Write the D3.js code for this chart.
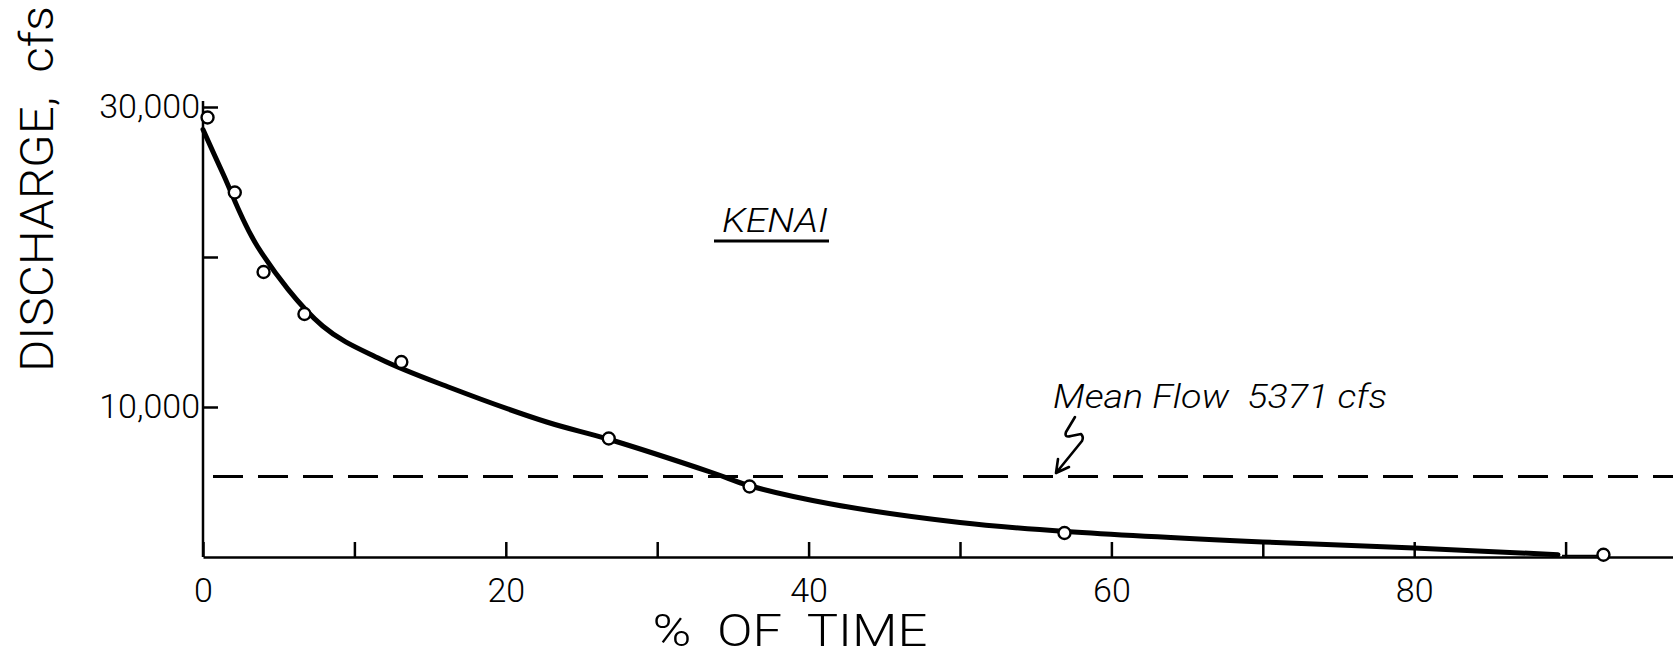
<!DOCTYPE html>
<html>
<head>
<script src="https://cdn.jsdelivr.net/npm/d3@7"></script>
<style>
body { margin: 0; background: #fff; }
svg { display: block; background: #fff; }
text { font-family: Roboto, "Liberation Sans", sans-serif; font-weight: 300; fill: #000; }
.axis path, .axis line { stroke: #000; stroke-width: 2.5px; }
.axis text { font-size: 34px; font-family: Roboto, "Liberation Sans", sans-serif; font-weight: 300; }
</style>
</head>
<body>
<svg width="1673" height="658"></svg>
<script>

// observed points (% of time, discharge cfs)
var pointPct = [0.3, 2.1, 4.0, 6.7, 13.1, 26.8, 36.1, 56.9, 92.5];
var pointQ = [29300, 24300, 19000, 16200, 13000, 7900, 4700, 1600, 150];

// hand drawn duration curve
var curvePct = [0, 1.3, 3.6, 7.9, 11.7, 16.3, 22.7, 26.8, 33.7, 36.1, 41.4, 50, 57, 70, 80, 89.5];
var curveQ = [28500, 25600, 20700, 15400, 13200, 11300, 9000, 7850, 5600, 4750, 3550, 2300, 1700, 1000, 600, 150];

var meanFlow = 5371;
var xTicks = [0, 10, 20, 30, 40, 50, 60, 70, 80, 90];
var xLabels = [0, 20, 40, 60, 80];
var yTicks = [10000, 20000, 30000];
var yLabels = [10000, 30000];

var svg = d3.select("svg"),
	width = +svg.attr("width"),
	height = +svg.attr("height");

var x = d3.scaleLinear().domain([0, 100]).range([203, 1717]);
var y = d3.scaleLinear().domain([0, 30000]).range([557, 107]);

// x axis
svg.append("g")
	.attr("class", "axis")
	.attr("transform", "translate(0," + y(0) + ")")
	.call(d3.axisBottom(x)
		.tickValues(xTicks)
		.tickSize(-15)
		.tickSizeOuter(0)
		.tickPadding(21)
		.tickFormat(function(d) { return xLabels.indexOf(d) >= 0 ? d : ""; }));

// y axis
var yAxis = svg.append("g")
	.attr("class", "axis")
	.attr("transform", "translate(" + x(0) + ",0)")
	.call(d3.axisLeft(y)
		.tickValues(yTicks)
		.tickSize(-15)
		.tickSizeOuter(0)
		.tickPadding(3)
		.tickFormat(function(d) { return yLabels.indexOf(d) >= 0 ? d3.format(",")(d) : ""; }));
yAxis.select(".domain").attr("d", "M0," + y(0) + "V" + (y(30000) - 6));

// mean flow dashed line
svg.append("line")
	.attr("x1", x(0) + 10)
	.attr("x2", width)
	.attr("y1", y(meanFlow))
	.attr("y2", y(meanFlow))
	.attr("stroke", "#000")
	.attr("stroke-width", 3)
	.attr("stroke-dasharray", "30,15");

// curve
var line = d3.line()
	.x(function(d, i) { return x(curvePct[i]); })
	.y(function(d, i) { return y(curveQ[i]); })
	.curve(d3.curveCatmullRom);

svg.append("path")
	.attr("d", line(curvePct))
	.attr("fill", "none")
	.attr("stroke", "#000")
	.attr("stroke-width", 5)
	.attr("stroke-linecap", "round");

// short stroke into last point
svg.append("line")
	.attr("x1", x(89.5) + 4)
	.attr("x2", x(pointPct[8]) - 5)
	.attr("y1", y(pointQ[8]) + 1)
	.attr("y2", y(pointQ[8]) + 1)
	.attr("stroke", "#000")
	.attr("stroke-width", 2);

// points
svg.append("g")
	.selectAll("circle")
	.data(pointPct)
	.enter().append("circle")
	.attr("cx", function(d) { return x(d); })
	.attr("cy", function(d, i) { return y(pointQ[i]); })
	.attr("r", 6)
	.attr("fill", "#fff")
	.attr("stroke", "#000")
	.attr("stroke-width", 2.4);

// axis titles
svg.append("text")
	.attr("x", 790)
	.attr("y", 646)
	.attr("text-anchor", "middle")
	.attr("font-size", 45)
	.attr("textLength", 275)
	.attr("lengthAdjust", "spacingAndGlyphs")
	.style("white-space", "pre")
	.text("%  OF  TIME");

svg.append("text")
	.attr("transform", "translate(53,189) rotate(-90)")
	.attr("text-anchor", "middle")
	.attr("font-size", 46)
	.attr("textLength", 366)
	.attr("lengthAdjust", "spacingAndGlyphs")
	.style("white-space", "pre")
	.text("DISCHARGE,  cfs");

// station name
svg.append("text")
	.attr("x", 722)
	.attr("y", 232)
	.attr("font-size", 33)
	.attr("font-style", "italic")
	.attr("textLength", 106)
	.attr("lengthAdjust", "spacingAndGlyphs")
	.text("KENAI");

svg.append("line")
	.attr("x1", 714)
	.attr("x2", 829)
	.attr("y1", 241)
	.attr("y2", 241)
	.attr("stroke", "#000")
	.attr("stroke-width", 3);

// mean flow note
svg.append("text")
	.attr("x", 1053)
	.attr("y", 408)
	.attr("font-size", 33)
	.attr("font-style", "italic")
	.attr("textLength", 334)
	.attr("lengthAdjust", "spacingAndGlyphs")
	.style("white-space", "pre")
	.text("Mean Flow  5371 cfs");

svg.append("path")
	.attr("d", "M1075,417 L1066,432 Q1064,438 1071,436 L1081,434 Q1084,437 1082,441 L1056,473 M1056,473 L1058,459 M1056,473 L1069,467")
	.attr("fill", "none")
	.attr("stroke", "#000")
	.attr("stroke-width", 2.6)
	.attr("stroke-linecap", "round")
	.attr("stroke-linejoin", "round");

</script>
</body>
</html>
